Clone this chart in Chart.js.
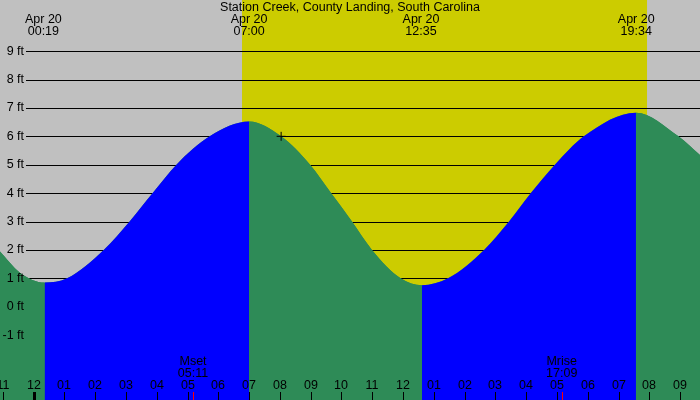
<!DOCTYPE html>
<html>
<head>
<meta charset="utf-8">
<title>Station Creek tide</title>
<script src="https://cdn.jsdelivr.net/npm/chart.js@4/dist/chart.umd.min.js"></script>
<style>
  html, body { margin: 0; padding: 0; background: #c0c0c0; }
  #wrap { width: 700px; height: 400px; }
</style>
</head>
<body>
<div id="wrap"><canvas id="tideChart" width="700" height="400"></canvas></div>
<script>
// hours since midnight Apr 20, tide height in ft
const hours = [-1.088, -0.44, 0.36, 1.09, 2.28, 3.12, 3.87, 4.64, 5.72, 7.0, 8.04, 8.98, 9.66, 10.34, 10.99, 11.92, 12.61, 13.46, 14.63, 15.44, 16.15, 16.93, 17.87, 19.56, 20.94, 21.64];
const heights = [1.94, 1.2, 0.85, 1.0, 2.0, 3.0, 4.0, 5.0, 6.0, 6.52, 6.0, 5.0, 4.0, 3.0, 2.0, 1.0, 0.76, 1.0, 2.0, 3.0, 4.0, 5.0, 6.0, 6.83, 6.0, 5.34];

// high / low tide labels
const tideHours = [0.32, 7.0, 12.58, 19.57];
const tideTimes = ["00:19", "07:00", "12:35", "19:34"];
const tideDate = "Apr 20";

// daylight
const sunrise = 6.77;
const sunset = 19.92;

// moon
const moonHours = [5.18, 17.15];
const moonNames = ["Mset", "Mrise"];
const moonTimes = ["05:11", "17:09"];

// axis
const footTicks = [9, 8, 7, 6, 5, 4, 3, 2, 1, 0, -1];
const hourTicks = [-1, 0, 1, 2, 3, 4, 5, 6, 7, 8, 9, 10, 11, 12, 13, 14, 15, 16, 17, 18, 19, 20, 21];
const hourLabels = ["11", "12", "01", "02", "03", "04", "05", "06", "07", "08", "09", "10", "11", "12", "01", "02", "03", "04", "05", "06", "07", "08", "09"];

// marker
const markHour = 8.04;
const markHeight = 6.0;

const title = "Station Creek, County Landing, South Carolina";
const FONT = '12.5px "Liberation Sans", Arial, sans-serif';

const tideDecor = {
  id: "tideDecor",
  beforeDatasetsDraw(chart) {
    const { ctx, scales: { x, y }, width, height } = chart;
    ctx.save();
    ctx.fillStyle = "#c0c0c0";
    ctx.fillRect(0, 0, width, height);
    const x1 = x.getPixelForValue(sunrise);
    const x2 = x.getPixelForValue(sunset);
    ctx.fillStyle = "#cccc00";
    ctx.fillRect(x1, 0, x2 - x1, height);

    // grid lines
    ctx.strokeStyle = "#000";
    ctx.lineWidth = 1;
    footTicks.forEach((v) => {
      const py = Math.round(y.getPixelForValue(v)) + 0.5;
      ctx.beginPath();
      ctx.moveTo(26, py);
      ctx.lineTo(width, py);
      ctx.stroke();
    });
    ctx.restore();
  },
  afterDatasetsDraw(chart) {
    const { ctx, scales: { x, y }, width, height } = chart;
    ctx.save();
    ctx.font = FONT;
    ctx.fillStyle = "#000";
    ctx.textBaseline = "middle";

    // y labels
    ctx.textAlign = "right";
    footTicks.forEach((v) => {
      ctx.fillText(v + " ft", 24, y.getPixelForValue(v));
    });

    // title
    ctx.textAlign = "center";
    ctx.fillText(title, width / 2, 8);

    // tide labels
    tideHours.forEach((h, i) => {
      const px = x.getPixelForValue(h);
      ctx.fillText(tideDate, px, 20);
      ctx.fillText(tideTimes[i], px, 31.5);
    });

    // hour labels and ticks
    hourTicks.forEach((h, i) => {
      const px = Math.round(x.getPixelForValue(h));
      ctx.fillText(hourLabels[i], px, 385.5);
      if (h === 0) {
        ctx.fillRect(px - 1, 392, 3, height - 392);
      } else {
        ctx.fillRect(px, 392, 1, height - 392);
      }
    });

    // moon labels
    moonHours.forEach((h, i) => {
      const px = x.getPixelForValue(h);
      ctx.fillStyle = "#000";
      ctx.fillText(moonNames[i], px, 362);
      ctx.fillText(moonTimes[i], px, 373.5);
      ctx.fillStyle = "#ff0000";
      ctx.fillRect(Math.round(px), 392, 1, height - 392);
    });
    ctx.restore();
  },
};

document.addEventListener("DOMContentLoaded", () => {
  const tideData = hours.map((h, i) => ({ x: h, y: heights[i] }));
  const ctx = document.getElementById("tideChart").getContext("2d");
  new Chart(ctx, {
    type: "line",
    data: {
      datasets: [
        {
          label: "mark",
          data: [{ x: markHour, y: markHeight }],
          showLine: false,
          pointStyle: "cross",
          pointRadius: 4.5,
          pointBorderColor: "#000",
          pointBorderWidth: 1,
          order: 0,
        },
        {
          // rising = blue, falling = green
          label: "Tide (ft)",
          data: tideData,
          borderWidth: 0,
          pointRadius: 0,
          cubicInterpolationMode: "monotone",
          fill: "start",
          backgroundColor: "#2e8b57",
          segment: {
            backgroundColor: (c) => (c.p1.parsed.y > c.p0.parsed.y ? "#0000ff" : "#2e8b57"),
          },
          order: 1,
        },
        {
          // underlay so segment seams don't show
          label: "under",
          data: tideData,
          borderWidth: 0,
          pointRadius: 0,
          cubicInterpolationMode: "monotone",
          fill: "start",
          backgroundColor: "#2e8b57",
          order: 2,
        },
      ],
    },
    options: {
      responsive: false,
      animation: false,
      layout: { padding: 0, autoPadding: false },
      plugins: { legend: { display: false }, tooltip: { enabled: false } },
      scales: {
        x: { type: "linear", min: -1.088, max: 21.64, display: false },
        y: { min: -3.285, max: 10.8, display: false },
      },
    },
    plugins: [tideDecor],
  });
});
</script>
</body>
</html>
